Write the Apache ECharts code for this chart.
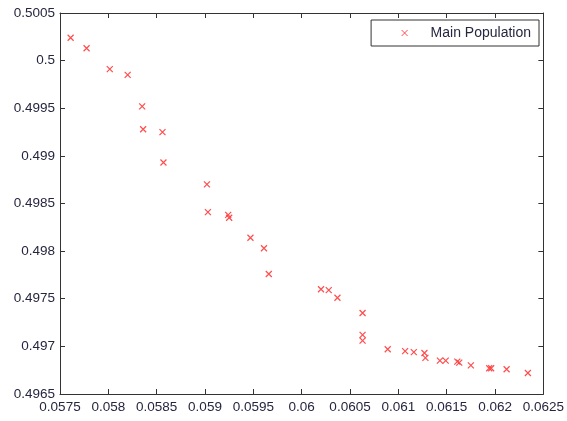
<!DOCTYPE html>
<html>
<head>
<meta charset="utf-8">
<script src="https://cdn.jsdelivr.net/npm/echarts@6/dist/echarts.min.js"></script>
<style>
  html, body { margin: 0; padding: 0; background: #fff; }
  #chart { width: 567px; height: 421px; }
</style>
</head>
<body>
<div id="chart"></div>
<script>
// values
const xValues = [
  0.05761, 0.057775, 0.058015, 0.0582, 0.05835, 0.05836, 0.05856, 0.05857, 0.05902,
  0.05903, 0.05924, 0.05925, 0.05947, 0.05961, 0.05966,
  0.0602, 0.06028, 0.06037, 0.06063, 0.06063, 0.06063, 0.06089, 0.06107, 0.06116,
  0.06127, 0.06128, 0.06143, 0.06149, 0.06161, 0.06163, 0.06175, 0.06194, 0.06196,
  0.06212, 0.06234
]
const yValues = [
  0.50024, 0.50013, 0.49991, 0.49985, 0.49952, 0.49928, 0.49925, 0.49893, 0.4987,
  0.49841, 0.49838, 0.49835, 0.49814, 0.49803, 0.49776,
  0.4976, 0.49759, 0.49751, 0.49735, 0.49712, 0.49706, 0.49697, 0.49695, 0.49694,
  0.49693, 0.49688, 0.49685, 0.49685, 0.49684, 0.49683, 0.4968, 0.49677, 0.49677,
  0.49676, 0.49672
]
const seriesName = 'Main Population'

const points = xValues.map((x, i) => [x, yValues[i]])

const chart = echarts.init(document.getElementById('chart'))

const axisColor = '#333'
const labelColor = '#262640'
const markColor = '#ff3a3a'
const cross = 'path://M0,0L10,10M10,0L0,10'
const font = 'Liberation Sans'

const baseX = {
  type: 'value',
  min: 0.0575,
  max: 0.0625,
  interval: 0.0005,
  splitLine: { show: false },
  axisLine: { lineStyle: { color: axisColor, width: 1 } },
  axisTick: { inside: true, length: 5, lineStyle: { color: axisColor } }
}
const baseY = {
  type: 'value',
  min: 0.4965,
  max: 0.5005,
  interval: 0.0005,
  splitLine: { show: false },
  axisLine: { lineStyle: { color: axisColor, width: 1 } },
  axisTick: { inside: true, length: 5, lineStyle: { color: axisColor } }
}

chart.setOption({
  backgroundColor: '#fff',
  animation: false,
  grid: { left: 60, right: 22, top: 13, bottom: 27 },
  legend: {
    top: 20,
    right: 28,
    data: [seriesName],
    borderColor: '#333',
    borderWidth: 1,
    padding: [5, 8, 5, 28],
    itemWidth: 6,
    itemHeight: 6,
    itemStyle: { borderWidth: 1 },
    textStyle: { fontFamily: font, fontSize: 14, lineHeight: 16, color: labelColor, padding: [0, 0, 0, 18] }
  },
  xAxis: [
    Object.assign({}, baseX, {
      position: 'bottom',
      axisLabel: { fontFamily: font, fontSize: 13.5, color: labelColor, margin: 6 }
    }),
    Object.assign({}, baseX, {
      position: 'top',
      axisLabel: { show: false }
    })
  ],
  yAxis: [
    Object.assign({}, baseY, {
      position: 'left',
      axisLabel: { fontFamily: font, fontSize: 13.5, color: labelColor, margin: 5 }
    }),
    Object.assign({}, baseY, {
      position: 'right',
      axisLabel: { show: false }
    })
  ],
  series: [
    {
      name: seriesName,
      type: 'scatter',
      data: points,
      symbol: cross,
      symbolSize: 6,
      itemStyle: { color: 'none', borderColor: markColor, borderWidth: 1.2, opacity: 0.9 }
    }
  ]
})
</script>
</body>
</html>
